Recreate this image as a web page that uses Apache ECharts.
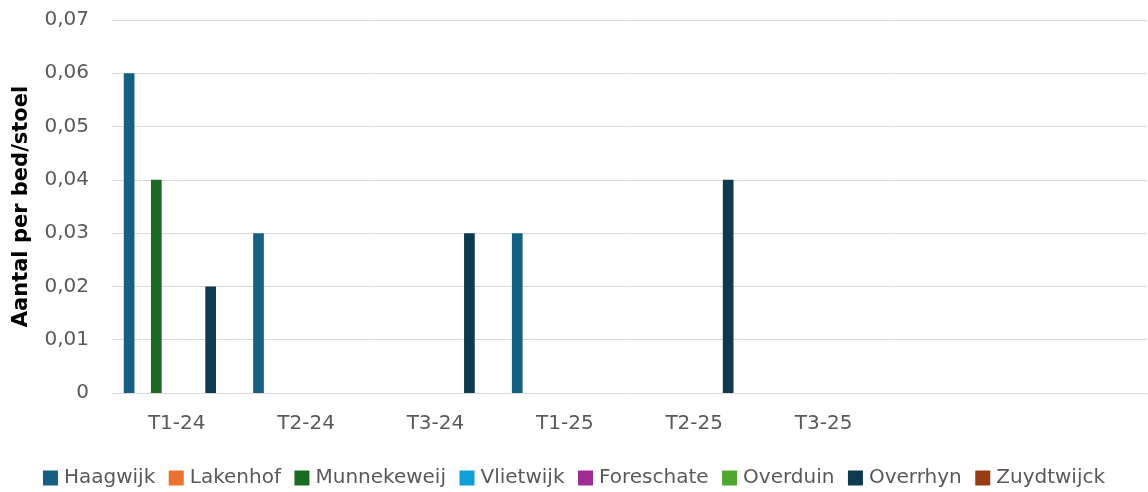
<!DOCTYPE html>
<html><head><meta charset="utf-8">
<script src="https://cdn.jsdelivr.net/npm/echarts@6/dist/echarts.min.js"></script>
<style>html,body{margin:0;padding:0;background:#fff}#c{width:1148px;height:492px}</style>
</head><body><div id="c"></div>
<script>
const categories = ['T1-24','T2-24','T3-24','T1-25','T2-25','T3-25','',''];
const seriesNames = ['Haagwijk','Lakenhof','Munnekeweij','Vlietwijk','Foreschate','Overduin','Overrhyn','Zuydtwijck'];
const colors = ['#156082','#E97132','#196B24','#0F9ED5','#A02B93','#4EA72E','#0D3A4E','#983C13'];
const haagwijk    = [0.06, 0.03, 0, 0.03, 0, 0, null, null];
const lakenhof    = [0, 0, 0, 0, 0, 0, null, null];
const munnekeweij = [0.04, 0, 0, 0, 0, 0, null, null];
const vlietwijk   = [0, 0, 0, 0, 0, 0, null, null];
const foreschate  = [0, 0, 0, 0, 0, 0, null, null];
const overduin    = [0, 0, 0, 0, 0, 0, null, null];
const overrhyn    = [0.02, 0, 0.03, 0, 0.04, 0, null, null];
const zuydtwijck  = [0, 0, 0, 0, 0, 0, null, null];
const values = [haagwijk, lakenhof, munnekeweij, vlietwijk, foreschate, overduin, overrhyn, zuydtwijck];
const yTicks = {min: 0, max: 0.07, interval: 0.01};

const font = '"DejaVu Sans", sans-serif';
const chart = echarts.init(document.getElementById('c'));
chart.setOption({
  animation: false,
  color: colors,
  grid: {left: 112, right: 1, top: 20, bottom: 99, containLabel: false},
  legend: {
    top: 463, left: 'center', icon: 'rect', itemWidth: 15, itemHeight: 15, itemGap: 13.5,
    textStyle: {color: '#595959', fontSize: 20, fontFamily: font, padding: [0,0,0,1]},
    data: seriesNames
  },
  xAxis: {
    type: 'category', data: categories,
    axisLine: {show: true, lineStyle: {color: '#D9D9D9', width: 1}},
    axisTick: {show: false},
    axisLabel: {color: '#595959', fontSize: 20, fontFamily: font, margin: 21, interval: 0}
  },
  yAxis: {
    type: 'value', min: yTicks.min, max: yTicks.max, interval: yTicks.interval,
    name: 'Aantal per bed/stoel', nameLocation: 'middle', nameGap: 80,
    nameTextStyle: {color: '#000', fontSize: 21, fontWeight: 'bold', fontFamily: font},
    axisLine: {show: false}, axisTick: {show: false},
    splitLine: {lineStyle: {color: '#D9D9D9', width: 1}},
    axisLabel: {color: '#595959', fontSize: 20, fontFamily: font, margin: 23,
      formatter: v => v === 0 ? '0' : v.toFixed(2).replace('.', ',')}
  },
  series: seriesNames.map((n, i) => ({
    name: n, type: 'bar', data: values[i], barWidth: 10.7, barGap: '27%',
    itemStyle: {color: colors[i]}
  }))
});
</script></body></html>
